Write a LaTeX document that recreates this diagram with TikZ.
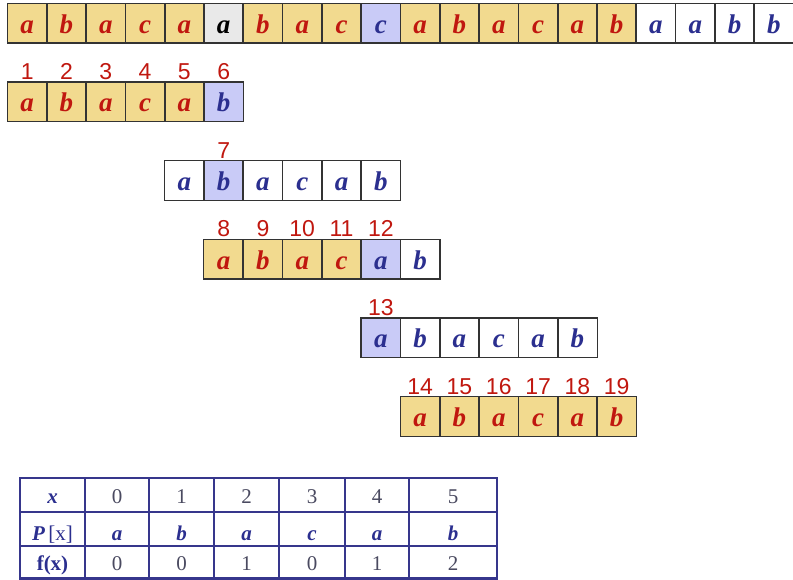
\documentclass[tikz,border=0pt]{standalone}
\usepackage{fontspec}
\setmainfont{Liberation Serif}
\newfontfamily\numfont{Liberation Sans}
\definecolor{yel}{HTML}{F2DA8F}
\definecolor{gry}{HTML}{E9E9E9}
\definecolor{blu}{HTML}{C9CBF7}
\definecolor{wht}{HTML}{FFFFFF}
\definecolor{tred}{HTML}{C0170F}
\definecolor{tblu}{HTML}{2B2F8F}
\definecolor{tblk}{HTML}{000000}
\definecolor{cellline}{HTML}{333333}
\definecolor{tabline}{HTML}{36368C}
\definecolor{tabnum}{HTML}{4A4A60}
\tikzset{
  cellbox/.style={minimum width=39.3pt, minimum height=39.3pt,
    inner sep=0pt, anchor=north west, text height=20pt, text depth=0pt,
    font=\fontsize{27}{27}\selectfont\bfseries\itshape},
  cellframe/.style={draw=cellline, line width=1.3pt},
  numlab/.style={anchor=base, inner sep=0pt, text=tred, font=\numfont\fontsize{23}{23}\selectfont},
  tabtxt/.style={anchor=base, inner sep=0pt, font=\fontsize{21}{21}\selectfont},
  tabvar/.style={tabtxt, text=tblu, font=\fontsize{21}{21}\selectfont\bfseries\itshape},
  tabdig/.style={tabtxt, text=tabnum}
}
\begin{document}
\begin{tikzpicture}[x=1pt,y=-1pt]
\useasboundingbox (0,0) rectangle (793,580);
% row 1: text
\foreach \i/\t/\f/\c in {0/a/yel/tred,1/b/yel/tred,2/a/yel/tred,3/c/yel/tred,4/a/yel/tred,5/a/gry/tblk,6/b/yel/tred,7/a/yel/tred,8/c/yel/tred,9/c/blu/tblu,10/a/yel/tred,11/b/yel/tred,12/a/yel/tred,13/c/yel/tred,14/a/yel/tred,15/b/yel/tred,16/a/wht/tblu,17/a/wht/tblu,18/b/wht/tblu,19/b/wht/tblu}
  \node[cellbox, fill=\f, text=\c] (ra\i) at ({7.3+\i*39.3}, 3.3) {\t};
\foreach \i in {0,...,19}
  \draw[cellframe] (ra\i.north west) rectangle (ra\i.south east);
% row 2
\foreach \i/\t/\f/\c in {0/a/yel/tred,1/b/yel/tred,2/a/yel/tred,3/c/yel/tred,4/a/yel/tred,5/b/blu/tblu}
  \node[cellbox, fill=\f, text=\c] (rb\i) at ({7.3+\i*39.3}, 82) {\t};
\foreach \i/\n in {0/1,1/2,2/3,3/4,4/5,5/6}{
  \draw[cellframe] (rb\i.north west) rectangle (rb\i.south east);
  \node[numlab] (lb\n) at ([yshift=2.5pt]rb\i.north) {\n};
}
% row 3
\foreach \i/\t/\f/\c in {0/a/wht/tblu,1/b/blu/tblu,2/a/wht/tblu,3/c/wht/tblu,4/a/wht/tblu,5/b/wht/tblu}
  \node[cellbox, fill=\f, text=\c] (rc\i) at ({7.3+(\i+4)*39.3}, 160.7) {\t};
\foreach \i in {0,...,5}
  \draw[cellframe] (rc\i.north west) rectangle (rc\i.south east);
\node[numlab] (lc7) at ([yshift=2.5pt]rc1.north) {7};
% row 4
\foreach \i/\t/\f/\c in {0/a/yel/tred,1/b/yel/tred,2/a/yel/tred,3/c/yel/tred,4/a/blu/tblu,5/b/wht/tblu}
  \node[cellbox, fill=\f, text=\c] (rd\i) at ({7.3+(\i+5)*39.3}, 239.4) {\t};
\foreach \i in {0,...,5}
  \draw[cellframe] (rd\i.north west) rectangle (rd\i.south east);
\foreach \i/\n in {0/8,1/9,2/10,3/11,4/12}
  \node[numlab] (ld\n) at ([yshift=2.5pt]rd\i.north) {\n};
% row 5
\foreach \i/\t/\f/\c in {0/a/blu/tblu,1/b/wht/tblu,2/a/wht/tblu,3/c/wht/tblu,4/a/wht/tblu,5/b/wht/tblu}
  \node[cellbox, fill=\f, text=\c] (re\i) at ({7.3+(\i+9)*39.3}, 318.1) {\t};
\foreach \i in {0,...,5}
  \draw[cellframe] (re\i.north west) rectangle (re\i.south east);
\node[numlab] (le13) at ([yshift=2.5pt]re0.north) {13};
% row 6
\foreach \i/\t in {0/a,1/b,2/a,3/c,4/a,5/b}
  \node[cellbox, fill=yel, text=tred] (rf\i) at ({7.3+(\i+10)*39.3}, 396.8) {\t};
\foreach \i/\n in {0/14,1/15,2/16,3/17,4/18,5/19}{
  \draw[cellframe] (rf\i.north west) rectangle (rf\i.south east);
  \node[numlab] (lf\n) at ([yshift=2.5pt]rf\i.north) {\n};
}
% table
\foreach \x in {85,149,214,279,345,409}
  \draw[tabline, line width=1.2pt] (\x,478) -- (\x,578.5);
\draw[tabline, line width=2pt] (20,512) -- (497,512) (20,546) -- (497,546);
\draw[tabline, line width=2.2pt] (20,478) rectangle (497,578.5);
\node[tabvar] (hx) at (52.5,503) {x};
\node[tabtxt, text=tblu] (hp) at (52.5,540) {\textbf{\textit{P}}\,[x]};
\node[tabtxt, text=tblu, font=\fontsize{21}{21}\selectfont\bfseries] (hf) at (52.5,570) {f(x)};
\foreach \xc/\n/\p/\f [count=\k] in {117/0/a/0,181.5/1/b/0,246.5/2/a/1,312/3/c/0,377/4/a/1,453/5/b/2}{
  \node[tabdig] (tx\k) at (\xc,503) {\n};
  \node[tabvar] (tp\k) at (\xc,540) {\p};
  \node[tabdig] (tf\k) at (\xc,570) {\f};
}
\end{tikzpicture}
\end{document}
